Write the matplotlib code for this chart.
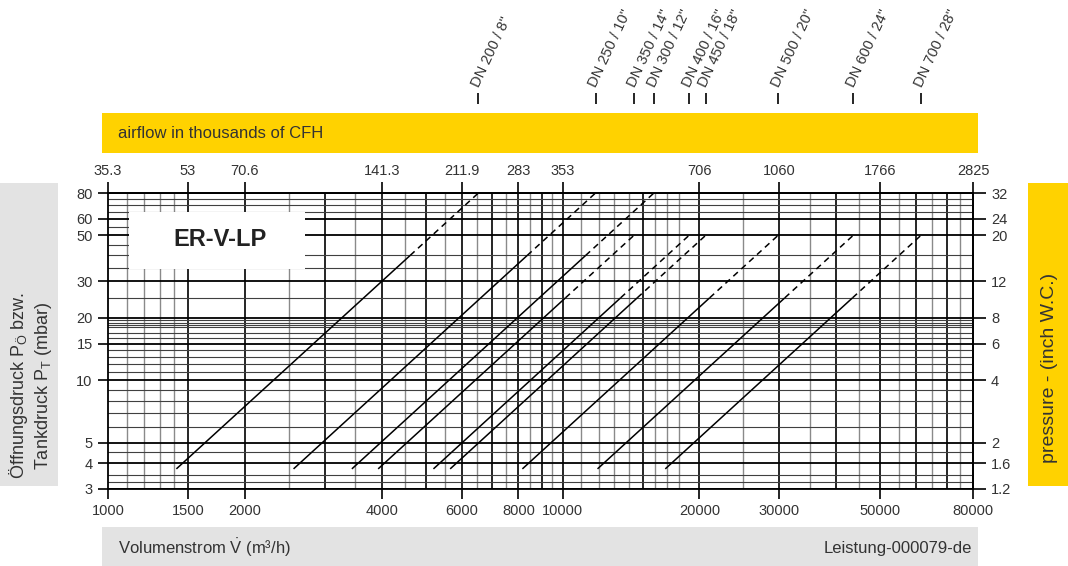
import numpy as np
import matplotlib.pyplot as plt
from matplotlib.patches import Rectangle
from matplotlib.ticker import NullLocator

plt.rcParams['font.family'] = ['Liberation Sans', 'DejaVu Sans']

# ---- data ----
# valve sizes, ordered by flow at top of curve
dn_labels = ['DN 200 / 8"', 'DN 250 / 10"', 'DN 350 / 14"', 'DN 300 / 12"',
             'DN 400 / 16"', 'DN 450 / 18"', 'DN 500 / 20"', 'DN 600 / 24"',
             'DN 700 / 28"']
q_start = [1414, 2560, 3930, 3440, 5200, 5660, 8160, 11940, 16830]   # m3/h at p_start
p_start = [3.75] * 9                                                   # mbar
q_dash = [4620, 8360, 10150, 11240, 13420, 14600, 21070, 30830, 43450]  # solid -> dashed
p_dash = [40, 40, 25, 40, 25, 25, 25, 25, 25]
q_end = [6530, 11820, 14360, 15890, 18980, 20650, 29800, 43600, 61450]
p_end = [80, 80, 50, 80, 50, 50, 50, 50, 50]

# axis ticks
flow_ticks = [1000, 1500, 2000, 4000, 6000, 8000, 10000, 20000, 30000, 50000, 80000]
cfh_labels = ['35.3', '53', '70.6', '141.3', '211.9', '283', '353', '706', '1060', '1766', '2825']
p_ticks = [3, 4, 5, 10, 15, 20, 30, 50, 60, 80]
inch_labels = ['1.2', '1.6', '2', '4', '6', '8', '12', '20', '24', '32']

# grid
v_major = [1500, 2000, 3000, 4000, 5000, 6000, 7000, 8000, 9000, 10000, 15000,
           20000, 30000, 40000, 50000, 60000, 70000]
v_minor = [1100, 1200, 1300, 1400, 2500, 3500, 4500, 5500, 6500, 7500, 8500, 9500,
           11000, 12000, 13000, 14000, 16000, 17000, 18000, 25000, 35000, 45000,
           55000, 65000, 75000]
h_major = p_ticks
h_minor = [3.25, 3.5, 4.5, 6, 7, 8, 9, 11, 12, 13, 14, 16, 17, 18, 18.5, 19, 19.5,
           25, 35, 40, 65, 70, 75]

YELLOW = '#FFD200'
GREY = '#E3E3E3'
TXT = '#333333'

W, H = 1068, 566
fig = plt.figure(figsize=(W / 100, H / 100), dpi=100)


def fbox(x0, y0, x1, y1):
    return [x0 / W, 1 - y1 / H, (x1 - x0) / W, (y1 - y0) / H]


def panel(x0, y0, x1, y1, color):
    l, b, w, h = fbox(x0, y0, x1, y1)
    fig.add_artist(Rectangle((l, b), w, h, transform=fig.transFigure,
                             facecolor=color, edgecolor='none', zorder=0))


panel(102, 113, 978, 153, YELLOW)
panel(0, 183, 58, 486, GREY)
panel(1028, 183, 1068, 486, YELLOW)
panel(102, 527, 978, 566, GREY)

fig.text(118 / W, 1 - 133 / H, 'airflow in thousands of CFH', fontsize=12,
         color=TXT, va='center', ha='left')
fig.text(118 / W, 1 - 548 / H, r'Volumenstrom $\mathregular{\dot{V}}$ (m³/h)',
         fontsize=12, color=TXT, va='center', ha='left')
fig.text(972 / W, 1 - 548 / H, 'Leistung-000079-de', fontsize=12, color=TXT,
         va='center', ha='right')
fig.text(19 / W, 1 - 386 / H, r'Öffnungsdruck P$_\mathregular{Ö}$ bzw.',
         rotation=90, fontsize=13, color=TXT, va='center', ha='center')
fig.text(44 / W, 1 - 386 / H, r'Tankdruck P$_\mathregular{T}$ (mbar)',
         rotation=90, fontsize=13, color=TXT, va='center', ha='center')
fig.text(1050 / W, 1 - 368 / H, 'pressure - (inch W.C.)', rotation=90,
         fontsize=14, color=TXT, va='center', ha='center')

ax = fig.add_axes(fbox(108, 193, 973, 489))
ax.set_xscale('log')
ax.set_yscale('log')
ax.set_xlim(1000, 80000)
ax.set_ylim(3, 80)

# grid lines
for v in v_minor:
    ax.axvline(v, color='#8a8a8a', lw=1.0, zorder=1)
for v in v_major:
    ax.axvline(v, color='black', lw=1.2, zorder=1)
for h in h_minor:
    ax.axhline(h, color='#404040', lw=0.8, zorder=1)
for h in h_major:
    ax.axhline(h, color='black', lw=1.3, zorder=1)
ax.hlines([45, 55], 1000, 1112, color='#404040', lw=0.8, zorder=1)

# white label box
ax.add_patch(Rectangle((1112, 34.4), 2716 - 1112, 64.5 - 34.4, facecolor='white',
                       edgecolor='none', zorder=2))
ax.text(0.13, 0.842, 'ER-V-LP', transform=ax.transAxes, fontsize=17,
        fontweight='bold', color='#222222', ha='center', va='center', zorder=4)

# valve curves
for i in range(len(dn_labels)):
    ax.plot([q_start[i], q_dash[i]], [p_start[i], p_dash[i]], color='black',
            lw=1.1, zorder=3, solid_capstyle='butt')
    ax.plot([q_dash[i], q_end[i]], [p_dash[i], p_end[i]], color='black',
            lw=1.1, ls=(0, (4, 3)), zorder=3)

# size labels above chart
trans = ax.get_xaxis_transform()
ax.vlines(q_end, 1.3007, 1.3378, transform=trans, color='black', lw=1.2,
          clip_on=False)
for q, lab in zip(q_end, dn_labels):
    ax.text(q * 0.985, 1.36, lab, transform=trans, rotation=65,
            rotation_mode='anchor', ha='left', va='center', fontsize=10.5,
            color=TXT, clip_on=False)

# ticks
ax.set_xticks(flow_ticks, labels=[str(t) for t in flow_ticks])
ax.set_yticks(p_ticks, labels=[str(t) for t in p_ticks])
ax.xaxis.set_minor_locator(NullLocator())
ax.yaxis.set_minor_locator(NullLocator())
ax.tick_params(direction='out', length=7, width=1.2, pad=4, labelsize=10.5,
               labelcolor=TXT)

top = ax.secondary_xaxis('top')
top.set_xticks(flow_ticks, labels=cfh_labels)
top.xaxis.set_minor_locator(NullLocator())
top.tick_params(direction='out', length=8, width=1.2, pad=3, labelsize=10.5,
                labelcolor=TXT)

right = ax.secondary_yaxis('right')
right.set_yticks(p_ticks, labels=inch_labels)
right.yaxis.set_minor_locator(NullLocator())
right.tick_params(direction='out', length=9, width=1.2, pad=4, labelsize=10.5,
                  labelcolor=TXT)

for a in (ax, top, right):
    for s in a.spines.values():
        s.set_linewidth(1.3)

fig.savefig('out.png', dpi=100)
